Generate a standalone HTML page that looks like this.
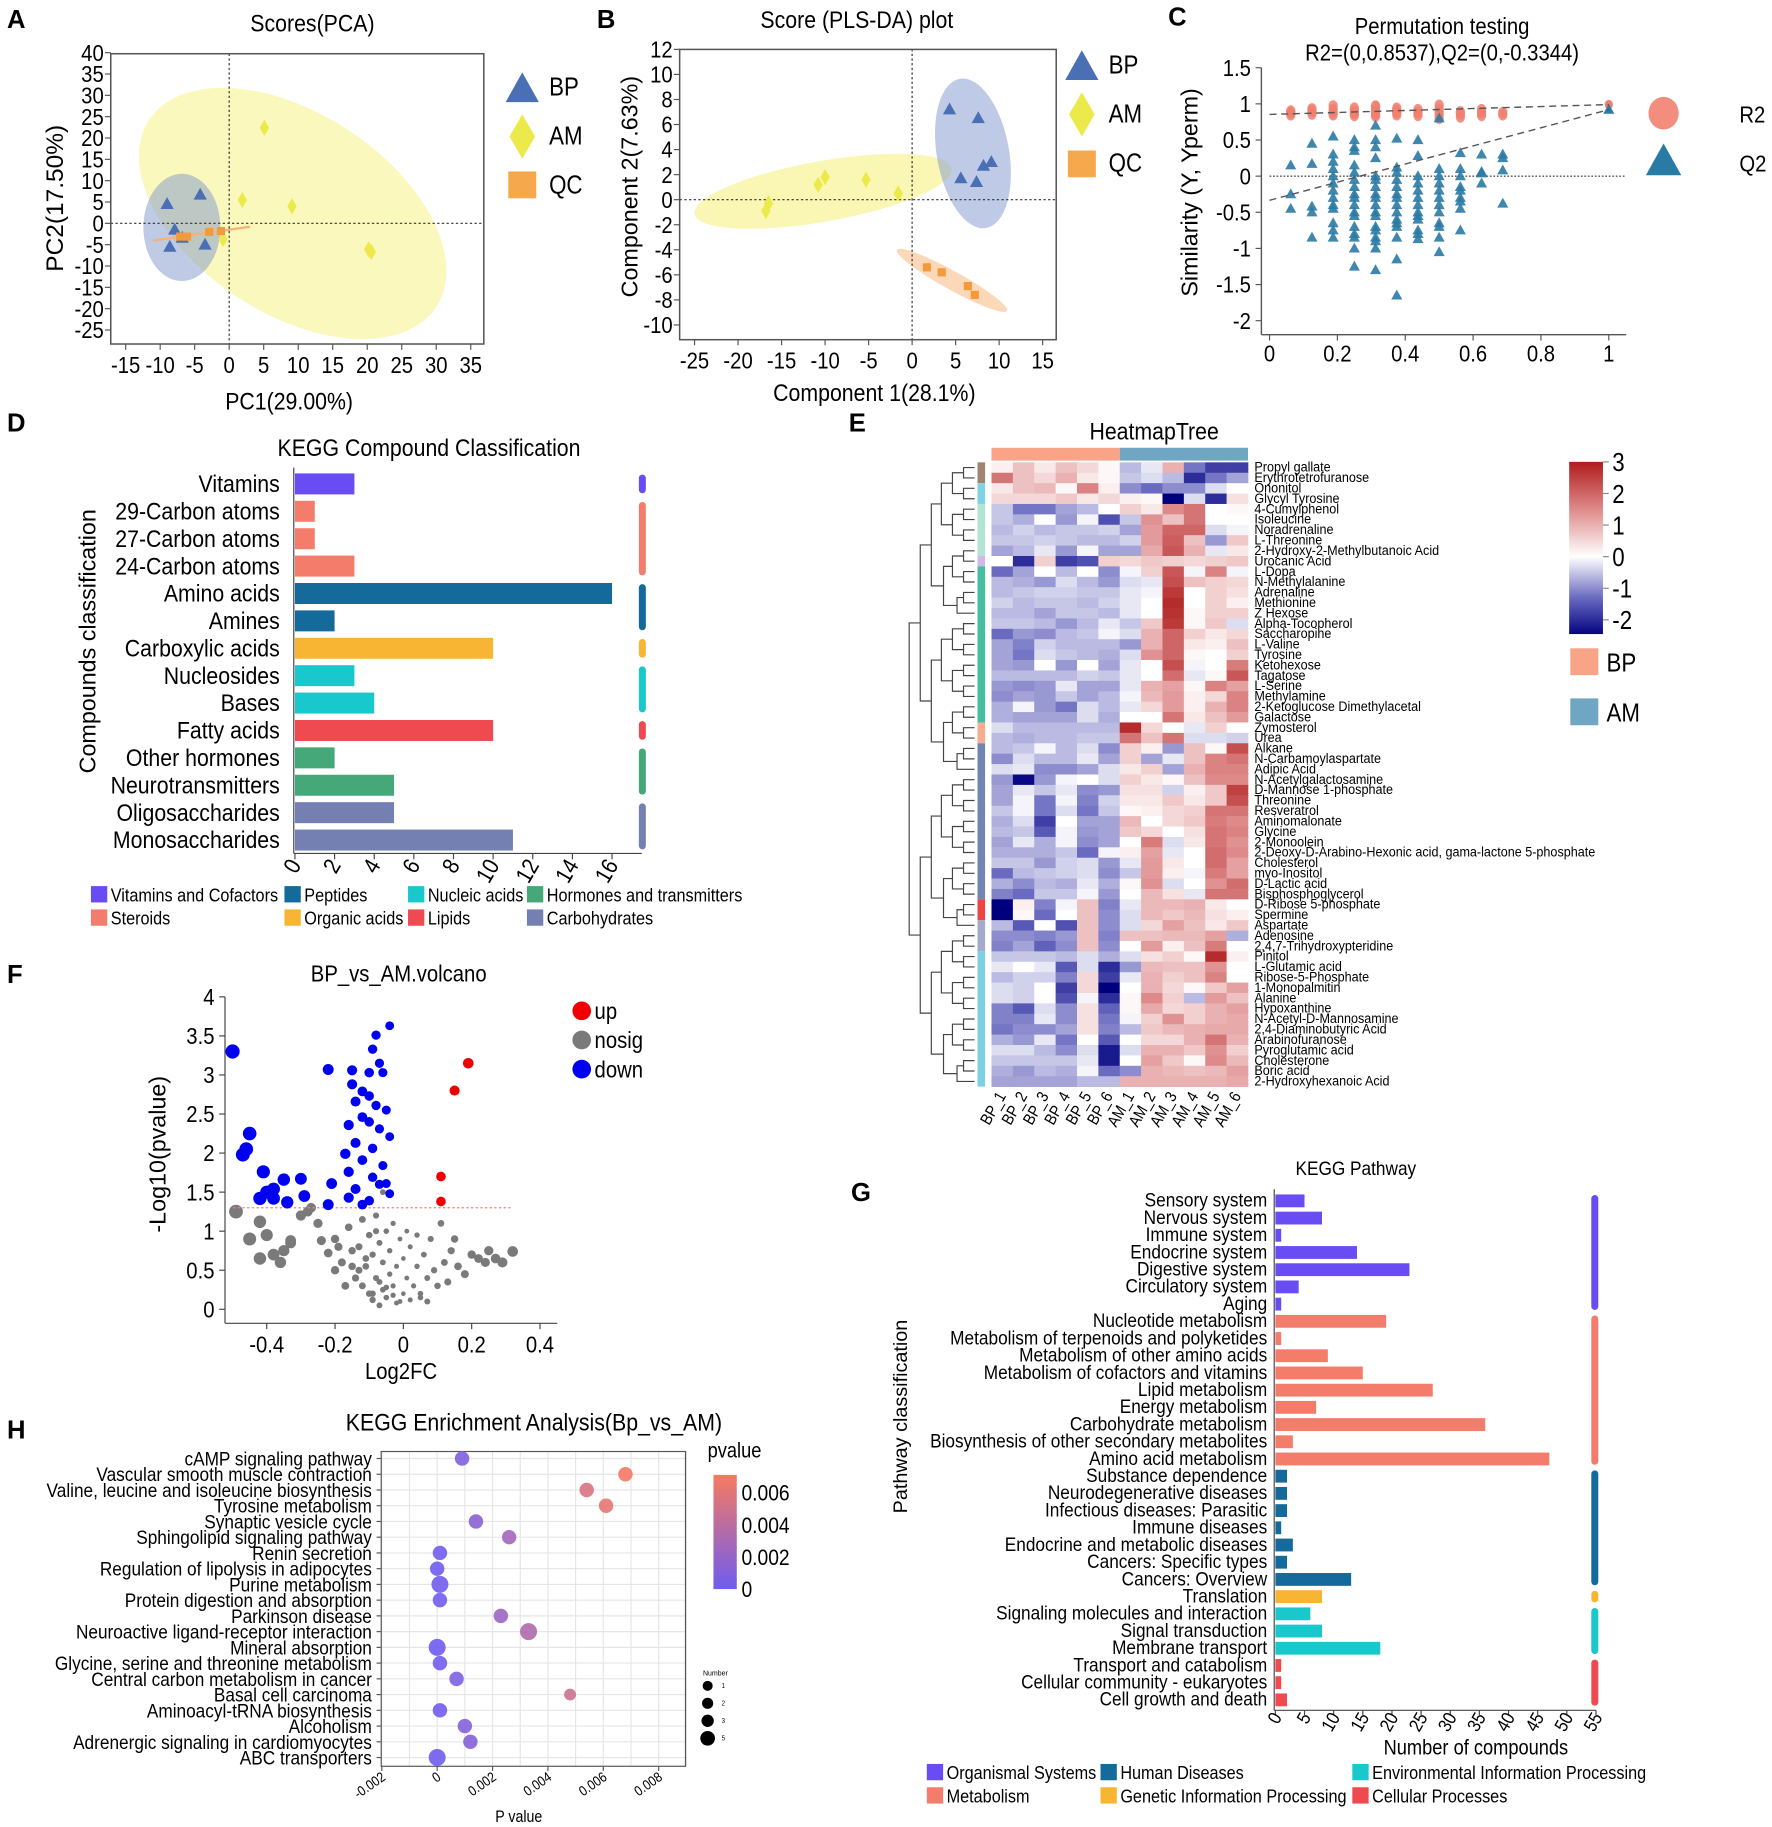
<!DOCTYPE html>
<html><head><meta charset="utf-8"><title>Metabolomics figure</title>
<style>
html,body{margin:0;padding:0;background:#fff;}
svg{display:block;font-family:"Liberation Sans",sans-serif;}
.pl{font-family:"Liberation Sans",sans-serif;font-weight:bold;font-size:22px;}
</style></head>
<body>
<svg id="fig" xmlns="http://www.w3.org/2000/svg" width="1772" height="1827" viewBox="0 0 1520 1567">
<rect x="0" y="0" width="1520" height="1567" fill="#fff"/>
<text class="pl" x="6" y="24">A</text>
<text class="pl" x="512" y="24">B</text>
<text class="pl" x="1002" y="22">C</text>
<text class="pl" x="6" y="370">D</text>
<text class="pl" x="728" y="370">E</text>
<text class="pl" x="6" y="843">F</text>
<text class="pl" x="730" y="1030">G</text>
<text class="pl" x="6" y="1234">H</text>

<text transform="translate(268,27) scale(0.87,1)" font-size="21" text-anchor="middle">Scores(PCA)</text>
<text transform="translate(248,351) scale(0.87,1)" font-size="21" text-anchor="middle">PC1(29.00%)</text>
<text transform="translate(54,170) rotate(-90)" font-size="21" text-anchor="middle">PC2(17.50%)</text>

<text transform="translate(735,24) scale(0.87,1)" font-size="21" text-anchor="middle">Score (PLS-DA) plot</text>
<text transform="translate(750,344) scale(0.87,1)" font-size="21" text-anchor="middle">Component 1(28.1%)</text>
<text transform="translate(547,160) rotate(-90)" font-size="20" text-anchor="middle">Component 2(7.63%)</text>

<text transform="translate(1237,29) scale(0.87,1)" font-size="20" text-anchor="middle">Permutation testing</text>
<text transform="translate(1237,52) scale(0.87,1)" font-size="20" text-anchor="middle">R2=(0,0.8537),Q2=(0,-0.3344)</text>
<text transform="translate(1027,165) rotate(-90)" font-size="20" text-anchor="middle">Similarity (Y, Yperm)</text>

<text transform="translate(368,391) scale(0.87,1)" font-size="21" text-anchor="middle">KEGG Compound Classification</text>
<text transform="translate(82,550) rotate(-90)" font-size="20" text-anchor="middle">Compounds classification</text>

<text transform="translate(990,377) scale(0.87,1)" font-size="21" text-anchor="middle">HeatmapTree</text>

<text transform="translate(342,842) scale(0.87,1)" font-size="20" text-anchor="middle">BP_vs_AM.volcano</text>
<text transform="translate(344,1183) scale(0.87,1)" font-size="20" text-anchor="middle">Log2FC</text>
<text transform="translate(142,990) rotate(-90)" font-size="20" text-anchor="middle">-Log10(pvalue)</text>

<text transform="translate(1163,1008) scale(0.87,1)" font-size="17" text-anchor="middle">KEGG Pathway</text>
<text transform="translate(1266,1505) scale(0.87,1)" font-size="18" text-anchor="middle">Number of compounds</text>
<text transform="translate(778,1215) rotate(-90)" font-size="17" text-anchor="middle">Pathway classification</text>

<text transform="translate(458,1227) scale(0.87,1)" font-size="21" text-anchor="middle">KEGG Enrichment Analysis(Bp_vs_AM)</text>
<text transform="translate(445,1563) scale(0.87,1)" font-size="14" text-anchor="middle">P value</text>
<text transform="translate(607,1250) scale(0.87,1)" font-size="18">pvalue</text>
<text x="603" y="1437" font-size="6">Number</text>
<g id="root"></g>
</svg>
<script>
// ===== Panel A data (PCA) =====
const pcaXTicks=[-15,-10,-5,0,5,10,15,20,25,30,35];
const pcaYTicks=[40,35,30,25,20,15,10,5,0,-5,-10,-15,-20,-25];
const pcaBPx=[-9,-4.2,-7.9,-6.8,-8.6,-3.5];
const pcaBPy=[4.5,6.7,-1.5,-3.4,-5.5,-5];
const pcaAMx=[5.1,1.9,9.1,20.2,20.6,-0.9];
const pcaAMy=[22.4,5.5,4,-6.1,-6.7,-3.7];
const pcaQCx=[-7.1,-6.1,-2.9,-1.2];
const pcaQCy=[-3.1,-3.1,-2,-1.8];
// ===== Panel B data (PLS-DA) =====
const plsXTicks=[-25,-20,-15,-10,-5,0,5,10,15];
const plsYTicks=[12,10,8,6,4,2,0,-2,-4,-6,-8,-10];
const plsBPx=[4.3,7.6,5.6,7.4,8.2,9.1];
const plsBPy=[7.2,6.5,1.7,1.4,2.7,3.0];
const plsAMx=[-16.8,-16.5,-10.8,-10,-5.3,-1.6];
const plsAMy=[-0.9,-0.3,1.2,1.8,1.6,0.5];
const plsQCx=[1.7,3.4,6.4,7.2];
const plsQCy=[-5.4,-5.8,-6.9,-7.6];
// ===== Panel C data (permutation) =====
const permXTicks=[0,0.2,0.4,0.6,0.8,1];
const permXTickLabels=['0','0.2','0.4','0.6','0.8','1'];
const permYTicks=[1.5,1,0.5,0,-0.5,-1,-1.5,-2];
const permYTickLabels=['1.5','1','0.5','0','-0.5','-1','-1.5','-2'];
const permX=[0.0625,0.125,0.1875,0.25,0.3125,0.375,0.4375,0.5,0.5625,0.625,0.6875];
const permR2=[[0.85,0.88,0.9],[0.86,0.9,0.93],[0.85,0.88,0.92,0.97],[0.84,0.87,0.9,0.94],[0.83,0.86,0.9,0.95,0.97],[0.85,0.88,0.91,0.94],[0.84,0.88,0.92],[0.8,0.84,0.88,0.93,0.98],[0.82,0.86,0.89],[0.84,0.88,0.92],[0.85,0.88]];
const permQ2=[[0.15,-0.25,-0.45],[0.45,0.17,-0.42,-0.5,-0.85],[0.55,0.3,0.2,0.1,0,-0.1,-0.2,-0.3,-0.4,-0.45,-0.65,-0.75,-0.85],[0.5,0.4,0.35,0.15,0.05,-0.05,-0.15,-0.25,-0.3,-0.4,-0.5,-0.55,-0.7,-0.8,-0.85,-1.0,-1.25],[0.7,0.5,0.4,0.25,0,-0.05,-0.15,-0.25,-0.3,-0.4,-0.5,-0.55,-0.7,-0.75,-0.85,-0.9,-1.0,-1.3],[0.52,0.12,0.05,-0.05,-0.15,-0.25,-0.3,-0.4,-0.5,-0.6,-0.65,-0.7,-0.85,-1.15,-1.65],[0.5,0.28,0,-0.1,-0.2,-0.3,-0.4,-0.5,-0.55,-0.6,-0.75,-0.8,-0.87],[0.8,0.1,0,-0.1,-0.2,-0.3,-0.4,-0.5,-0.65,-0.7,-0.85,-1.05],[0.32,0.1,0,-0.15,-0.2,-0.3,-0.35,-0.45,-0.75],[0.3,0.06,0.04,-0.1],[0.3,0.25,0.08,-0.38]];
const permFinalR2=[1,0.99];
const permFinalQ2=[1,0.92];
const permIntercepts=[0.8537,-0.3344];
// ===== Panel D data =====
const compCats=['Vitamins','29-Carbon atoms','27-Carbon atoms','24-Carbon atoms','Amino acids','Amines','Carboxylic acids','Nucleosides','Bases','Fatty acids','Other hormones','Neurotransmitters','Oligosaccharides','Monosaccharides'];
const compVals=[3,1,1,3,16,2,10,3,4,10,2,5,5,11];
const compGroup=[0,1,1,1,2,2,3,4,4,5,6,6,7,7];
const compTicks=[0,2,4,6,8,10,12,14,16];
const compGroupNames=['Vitamins and Cofactors','Steroids','Peptides','Organic acids','Nucleic acids','Lipids','Hormones and transmitters','Carbohydrates'];
// ===== Panel E data =====
const hmRows=['Propyl gallate','Erythrotetrofuranose','Ononitol','Glycyl Tyrosine','4-Cumylphenol','Isoleucine','Noradrenaline','L-Threonine','2-Hydroxy-2-Methylbutanoic Acid','Urocanic Acid','L-Dopa','N-Methylalanine','Adrenaline','Methionine','Z Hexose','Alpha-Tocopherol','Saccharopine','L-Valine','Tyrosine','Ketohexose','Tagatose','L-Serine','Methylamine','2-Ketoglucose Dimethylacetal','Galactose','Zymosterol','Urea','Alkane','N-Carbamoylaspartate','Adipic Acid','N-Acetylgalactosamine','D-Mannose 1-phosphate','Threonine','Resveratrol','Aminomalonate','Glycine','2-Monoolein','2-Deoxy-D-Arabino-Hexonic acid, gama-lactone 5-phosphate','Cholesterol','myo-Inositol','D-Lactic acid','Bisphosphoglycerol','D-Ribose 5-phosphate','Spermine','Aspartate','Adenosine','2,4,7-Trihydroxypteridine','Pinitol','L-Glutamic acid','Ribose-5-Phosphate','1-Monopalmitin','Alanine','Hypoxanthine','N-Acetyl-D-Mannosamine','2,4-Diaminobutyric Acid','Arabinofuranose','Pyroglutamic acid','Cholesterone','Boric acid','2-Hydroxyhexanoic Acid'];
const hmCols=['BP_1','BP_2','BP_3','BP_4','BP_5','BP_6','AM_1','AM_2','AM_3','AM_4','AM_5','AM_6'];
const hmVals=[
[0.2,0.8,0.3,0.8,0.5,0.1,-0.6,-0.2,1,-1.2,-1.8,-1.8],
[1.8,0.8,0.5,1,0.3,0.1,-0.5,-0.3,-0.6,-2,-1.2,-0.8],
[0.3,0.8,0.9,0.1,1.6,0.2,-1,-1.3,-1,-1,-0.3,0],
[0.5,0.5,0.5,0.7,0.3,0.5,0.2,0.1,-2.5,-0.3,-2,0.4],
[-0.5,-1.2,-1.2,-0.8,-0.6,0,0.6,0.3,1.5,1.8,0,0.1],
[-0.5,-0.7,0,-0.9,-0.1,-1.6,-0.5,1.4,0.8,1.8,0,0],
[-0.6,-0.4,-0.6,-0.5,-0.5,-0.4,-0.8,1.3,2,2,-0.3,-0.1],
[-0.5,-0.5,-0.4,-0.5,-0.6,-0.6,-0.4,1.3,2.1,0.8,-0.9,0.7],
[-0.8,-0.6,-0.2,-0.9,-0.1,-0.8,-0.8,1.1,2.2,1,-0.2,0.3],
[0,-2,0.6,-1.8,-1.6,0.6,0.5,0.7,0.6,0.5,0.6,0.7],
[-1.3,-0.8,0,-0.6,0,-1,-0.1,0.6,2.2,-0.1,1.6,-0.1],
[-0.6,-0.7,-0.9,-0.3,-0.6,-0.9,-0.3,-0.2,2.3,0.8,0.6,0.5],
[-0.6,-0.5,-0.4,-0.4,-0.5,-0.5,-0.2,-0.1,2.6,0,0.6,0.4],
[-0.4,-0.6,-0.5,-0.5,-0.6,-0.4,-0.2,0,2.8,0,0.6,0.2],
[-0.6,-0.6,-0.8,-0.5,-0.5,-0.6,-0.2,0,2.7,0.1,0.6,0.6],
[-0.5,-0.5,-0.6,-0.9,-0.6,-0.2,-0.5,0.7,2.6,0.1,0.7,-0.3],
[-1.3,-0.9,-1,-0.6,-0.5,-0.1,-0.3,1,2,0.6,0.3,0.5],
[-0.8,-1.1,-0.4,-0.6,-0.6,-0.6,-0.9,1,2,0.3,0.2,0.8],
[-0.8,-1.2,-0.3,-0.5,-0.6,-0.7,-0.3,1.4,2,0.1,0,0.6],
[-0.8,-0.9,0,-0.9,0,-0.8,-0.2,0,2.3,-0.1,0,1.7],
[-0.6,-0.6,-0.6,-0.6,-0.4,-0.5,-0.2,0,1.9,-0.2,0.1,2.2],
[-0.9,-1,-0.9,-0.2,-0.8,-0.8,-0.2,1,1.2,0.1,1.6,1.2],
[-1,-0.8,-0.9,-0.5,-0.8,-0.6,-0.1,0.9,1.3,0.2,0.5,1.6],
[-0.7,-0.1,-0.9,-1.2,-0.3,-0.6,-0.2,0.5,1.3,0.2,1,1.6],
[-0.7,-0.8,-0.8,-0.8,-0.3,-0.7,0,0,1.8,0.3,0.8,1.3],
[-0.3,-0.6,-0.6,-0.6,-0.6,-0.6,2.8,0.5,0,-0.2,0.6,0],
[-0.6,-0.7,-0.6,-0.6,-0.5,-0.5,1.8,0.8,1.8,-0.3,-0.3,-0.4],
[-0.6,-0.5,-0.1,-0.6,-0.3,-1,0.6,0.2,-0.9,0.8,0.1,2.3],
[-1,-0.3,-0.6,-0.6,-0.2,-0.8,0.6,-0.8,-0.2,0.8,1.6,1.8],
[-0.3,-0.2,-1,-1,-0.8,-0.3,0.3,0.6,-0.8,1,1.6,1.6],
[-0.9,-2.4,-0.9,-0.1,0,-0.3,0.6,0.3,0.1,0.8,1.5,1.5],
[-0.8,-0.2,-0.5,-0.2,-1,-0.9,0.4,0.4,-0.4,0.2,0.7,2.5],
[-0.8,-0.1,-1.2,-0.1,-1.1,-0.4,0.3,0.3,0.7,0.3,0.7,2.3],
[-0.5,-0.1,-1.2,-0.3,-1.2,-0.5,0.1,0.2,0.5,0.6,1.8,1.8],
[-0.7,-0.3,-1.8,0,-0.8,-0.8,0.9,0,0.5,0.7,1.7,1.5],
[-0.6,-0.5,-1.5,-0.1,-0.9,-0.8,0.7,0.5,0,0.4,1.8,1.6],
[-0.8,-0.2,-0.7,-0.1,-1,-0.8,0,1.7,-0.3,0.3,1.8,1.4],
[-0.7,-0.7,-0.7,-0.5,-1.3,-0.1,0.2,1.2,-0.2,0,1.9,1.5],
[-0.5,-0.5,-0.9,-0.4,-0.3,-0.9,-0.2,1.3,0.3,0,1.9,1.2],
[-1.3,-0.6,-0.5,-0.4,-0.3,-1,-0.5,1.3,0.2,-0.1,1.7,1.2],
[-0.7,-1,-0.6,-0.7,-0.2,-0.7,0.1,1.4,-0.3,0,1.4,1.9],
[-1.1,-1.3,-0.5,-0.5,-0.1,-0.9,0,0.9,0.4,-0.2,1.8,1.8],
[-2.5,0.2,-1.1,-0.1,0.8,-1.1,-0.2,0.9,0.9,1,0.3,0],
[-2.6,0.1,-1.3,0,0.8,-1,-0.3,0.9,0.7,0.9,0.4,0.2],
[-0.6,-1.5,0,-1.6,0.8,-1,-0.3,0.5,1.2,0.8,0.3,0.7],
[-1,-1,-1.1,-0.9,0.8,-1.1,0.8,0.8,0.9,0.9,1.2,-0.7],
[-1.1,-0.8,-1.4,-1,0.8,-1,0,1.3,0.2,0.8,1.7,0],
[-0.5,-0.5,-0.5,-0.6,-0.3,-0.7,-0.3,0.4,0.6,0.1,2.8,0.2],
[-0.2,0,-0.2,-1.5,-0.3,-2,-0.9,0.9,0.8,0.8,1.4,0],
[-0.6,-0.4,-0.4,-1.1,0.5,-1.8,-0.2,1,0.6,0.8,1.6,0],
[-0.3,-0.4,0,-1.8,0.5,-2.5,0,1,0.5,0.1,0.7,1.2],
[-0.3,-0.4,0,-1.6,-0.1,-2,0.1,1.5,0.6,-0.6,1.3,0.8],
[-1.1,-1.5,-0.3,-1,0.4,-1.4,0.1,1.1,0.5,0.6,1,1.2],
[-1.1,-1.1,-0.2,-1,0.4,-1.2,-0.1,0.6,1.4,0.6,1,1.1],
[-1.2,-1,-1,-0.8,0.4,-1.1,-0.6,0.7,0.9,1,1.1,1.1],
[-0.7,-0.9,-0.2,-1.2,0,-1.5,0,0.5,0.5,1,1.8,1],
[-0.3,-0.3,-0.6,-1,-0.3,-2.2,-0.3,1,1,0.7,1.4,0.6],
[-0.5,-0.5,-0.5,-0.5,-0.2,-2.2,0,1.2,0.7,0.1,1.5,0.9],
[-0.7,-0.9,-0.6,-0.7,-0.1,-1.3,-1,1,0.9,0.8,0.9,1.2],
[-0.8,-0.8,-0.8,-0.8,-0.6,-0.6,1,1,1,1,1,1.1]];
const hmRowGroupSizes=[2,2,5,1,15,2,15,2,3,13];
const hmColorbarTicks=[3,2,1,0,-1,-2];
// ===== Panel F data (volcano) =====
const volXTicks=[-0.4,-0.2,0,0.2,0.4];
const volYTicks=[4,3.5,3,2.5,2,1.5,1,0.5,0];
const volYTickLabels=['4','3.5','3','2.5','2','1.5','1','0.5','0'];
const volDownX=[-0.5,-0.45,-0.46,-0.47,-0.41,-0.35,-0.38,-0.4,-0.42,-0.3,-0.29,-0.34,-0.38,-0.04,-0.08,-0.09,-0.07,-0.22,-0.15,-0.1,-0.06,-0.15,-0.12,-0.1,-0.14,-0.08,-0.05,-0.12,-0.1,-0.16,-0.07,-0.04,-0.14,-0.09,-0.17,-0.12,-0.06,-0.16,-0.09,-0.21,-0.14,-0.05,-0.16,-0.1,-0.22,-0.04,-0.12,-0.07];
const volDownY=[3.3,2.25,2.05,1.98,1.76,1.66,1.54,1.5,1.42,1.67,1.45,1.37,1.42,3.63,3.51,3.33,3.15,3.07,3.06,3.03,3.03,2.88,2.79,2.73,2.66,2.61,2.55,2.46,2.4,2.36,2.31,2.21,2.13,2.06,1.99,1.91,1.84,1.76,1.69,1.61,1.54,1.61,1.43,1.39,1.34,1.48,1.34,1.6];
const volUpX=[0.19,0.15,0.11,0.11];
const volUpY=[3.15,2.8,1.7,1.38];
const volNsX=[-0.49,-0.42,-0.4,-0.38,-0.35,-0.33,-0.3,-0.28,-0.27,-0.25,-0.24,-0.22,-0.2,-0.19,-0.18,-0.16,-0.15,-0.15,-0.14,-0.13,-0.12,-0.12,-0.11,-0.1,-0.1,-0.09,-0.09,-0.08,-0.08,-0.07,-0.07,-0.06,-0.06,-0.05,-0.05,-0.04,-0.04,-0.03,-0.03,-0.02,-0.02,-0.01,0,0,0.01,0.01,0.02,0.02,0.03,0.04,0.04,0.05,0.06,0.07,0.07,0.08,0.09,0.1,0.11,0.12,0.13,0.14,0.15,0.16,0.18,0.2,0.22,0.24,0.25,0.27,0.29,0.32,-0.45,-0.42,-0.36,-0.33,-0.2,-0.17,-0.13,-0.11,-0.09,-0.07,-0.05,-0.03,-0.01,0.05,-0.08,-0.06];
const volNsY=[1.25,1.12,0.95,0.7,0.75,0.88,1.2,1.25,1.3,1.1,0.88,0.72,0.9,0.8,0.6,1.05,0.75,0.55,0.4,0.8,1.15,0.3,0.55,0.2,0.95,0.7,0.12,0.4,1.2,0.85,0.05,0.25,0.6,1.0,0.15,0.45,0.75,0.3,1.1,0.08,0.55,0.9,0.2,0.65,1.0,0.4,0.12,0.8,0.3,0.55,0.95,0.2,0.7,0.4,0.1,0.9,0.5,0.3,1.1,0.6,0.35,0.75,0.9,0.55,0.45,0.7,0.65,0.6,0.75,0.65,0.6,0.74,0.9,0.65,0.6,0.85,0.5,0.3,0.5,0.65,0.2,0.35,0.28,0.18,0.1,0.15,1.0,1.5];
// ===== Panel G data =====
const pathCats=['Sensory system','Nervous system','Immune system','Endocrine system','Digestive system','Circulatory system','Aging','Nucleotide metabolism','Metabolism of terpenoids and polyketides','Metabolism of other amino acids','Metabolism of cofactors and vitamins','Lipid metabolism','Energy metabolism','Carbohydrate metabolism','Biosynthesis of other secondary metabolites','Amino acid metabolism','Substance dependence','Neurodegenerative diseases','Infectious diseases: Parasitic','Immune diseases','Endocrine and metabolic diseases','Cancers: Specific types','Cancers: Overview','Translation','Signaling molecules and interaction','Signal transduction','Membrane transport','Transport and catabolism','Cellular community - eukaryotes','Cell growth and death'];
const pathVals=[5,8,1,14,23,4,1,19,1,9,15,27,7,36,3,47,2,2,2,1,3,2,13,8,6,8,18,1,1,2];
const pathGroup=[0,0,0,0,0,0,0,1,1,1,1,1,1,1,1,1,2,2,2,2,2,2,2,3,4,4,4,5,5,5];
const pathTicks=[0,5,10,15,20,25,30,35,40,45,50,55];
const pathGroupNames=['Organismal Systems','Metabolism','Human Diseases','Genetic Information Processing','Environmental Information Processing','Cellular Processes'];
// ===== Panel H data =====
const enrCats=['cAMP signaling pathway','Vascular smooth muscle contraction','Valine, leucine and isoleucine biosynthesis','Tyrosine metabolism','Synaptic vesicle cycle','Sphingolipid signaling pathway','Renin secretion','Regulation of lipolysis in adipocytes','Purine metabolism','Protein digestion and absorption','Parkinson disease','Neuroactive ligand-receptor interaction','Mineral absorption','Glycine, serine and threonine metabolism','Central carbon metabolism in cancer','Basal cell carcinoma','Aminoacyl-tRNA biosynthesis','Alcoholism','Adrenergic signaling in cardiomyocytes','ABC transporters'];
const enrP=[0.0009,0.0068,0.0054,0.0061,0.0014,0.0026,0.0001,0,0.0001,0.0001,0.0023,0.0033,0,0.0001,0.0007,0.0048,0.0001,0.001,0.0012,0];
const enrNum=[2,2,2,2,2,2,2,2,3,2,2,3,3,2,2,1,2,2,2,3];
const enrXTicks=[-0.002,0,0.002,0.004,0.006,0.008];
const enrXTickLabels=['-0.002','0','0.002','0.004','0.006','0.008'];
const enrPvTicks=[0.006,0.004,0.002,0];
const enrSizeLegend=[1,2,3,5];

// ================= drawing helpers =================
const NS='http://www.w3.org/2000/svg';
const ROOT=document.getElementById('root');
const SX=0.87;
function mk(tag,attrs,parent){const e=document.createElementNS(NS,tag);for(const k in attrs)e.setAttribute(k,attrs[k]);(parent||ROOT).appendChild(e);return e;}
function tx(x,y,s,attrs,parent){
 attrs=Object.assign({},attrs||{});
 let tr='translate('+x+','+y+')';
 if(attrs.rot!==undefined){tr+=' rotate('+attrs.rot+')';delete attrs.rot;}
 let sx=SX; if(attrs.sx!==undefined){sx=attrs.sx;delete attrs.sx;}
 tr+=' scale('+sx+',1)';
 const e=mk('text',Object.assign({x:0,y:0,transform:tr},attrs),parent);e.textContent=s;return e;}
function triPath(x,y,s){return 'M'+x+','+(y-s)+' L'+(x+s*0.95)+','+(y+s*0.7)+' L'+(x-s*0.95)+','+(y+s*0.7)+' Z';}
function diaPath(x,y,w,h){return 'M'+x+','+(y-h)+' L'+(x+w)+','+y+' L'+x+','+(y+h)+' L'+(x-w)+','+y+' Z';}
function lerpHex(a,b,t){const pa=[parseInt(a.substr(1,2),16),parseInt(a.substr(3,2),16),parseInt(a.substr(5,2),16)];const pb=[parseInt(b.substr(1,2),16),parseInt(b.substr(3,2),16),parseInt(b.substr(5,2),16)];return 'rgb('+pa.map((v,i)=>Math.round(v+(pb[i]-v)*t)).join(',')+')';}
function hmColor(v){const stops=[[-2.5,'#00007f'],[-1.3,'#6a6ac0'],[0,'#ffffff'],[1.5,'#de8a8a'],[3,'#b01c1c']];if(v<=stops[0][0])return stops[0][1];for(let i=1;i<stops.length;i++){if(v<=stops[i][0]){const t=(v-stops[i-1][0])/(stops[i][0]-stops[i-1][0]);return lerpHex(stops[i-1][1],stops[i][1],t);}}return stops[stops.length-1][1];}

// ================= Panel A =================
(function(){
const ax=v=>196.6+v*5.92, ay=v=>191.5-v*3.66;
const g=mk('g',{});


let e=mk('ellipse',{cx:251,cy:183,rx:147,ry:86,transform:'rotate(33 251 183)',fill:'#f7f49a','fill-opacity':0.65},g);


e=mk('ellipse',{cx:156,cy:195,rx:33,ry:46,fill:'#7f97cc','fill-opacity':0.5},g);


e=mk('line',{x1:ax(-11),y1:ay(-4),x2:ax(3),y2:ay(-0.8),stroke:'#f5b27a','stroke-width':2},g);


e=mk('line',{x1:ax(0),y1:46,x2:ax(0),y2:295,stroke:'#333','stroke-dasharray':'2,2'},g);


e=mk('line',{x1:95,y1:ay(0),x2:415,y2:ay(0),stroke:'#333','stroke-dasharray':'2,2'},g);


e=mk('rect',{x:95,y:46,width:320,height:249,fill:'none',stroke:'#555','stroke-width':1.3},g);


pcaXTicks.forEach(v=>{
 const l=mk('line',{x1:ax(v),y1:295,x2:ax(v),y2:300,stroke:'#555'},g);
 
 
 const t=tx(ax(v),320,String(v),{'font-size':20,'text-anchor':'middle'},g);
 
 
});
pcaYTicks.forEach(v=>{
 const l=mk('line',{x1:90,y1:ay(v),x2:95,y2:ay(v),stroke:'#555'},g);
 
 
 const t=tx(89,ay(v)+7,String(v),{'font-size':20,'text-anchor':'end'},g);
 
 
});
pcaAMx.forEach((v,i)=>{const p=mk('path',{d:diaPath(ax(v),ay(pcaAMy[i]),4,7),fill:'#ecea4a'},g);
 
 });
pcaBPx.forEach((v,i)=>{const p=mk('path',{d:triPath(ax(v),ay(pcaBPy[i]),6),fill:'#4a6fb5'},g);
 
 });
pcaQCx.forEach((v,i)=>{const p=mk('rect',{x:ax(v)-3.5,y:ay(pcaQCy[i])-3.5,width:7,height:7,fill:'#f39a3a'},g);
 
 });
let p=mk('path',{d:triPath(448,77,15),fill:'#4a6fb5'},g);


p=mk('path',{d:diaPath(448,117,11,19),fill:'#ecea4a'},g);


p=mk('rect',{x:436,y:147,width:24,height:23,fill:'#f5a94c'},g);


[['BP',82],['AM',124],['QC',166]].forEach(a=>{const t=tx(471,a[1],a[0],{'font-size':22},g);
 
 });
})();

// ================= Panel B =================
(function(){
const bx=v=>782.4+v*7.465, by=v=>171.2-v*10.745;
const g=mk('g',{});


let e=mk('ellipse',{cx:706,cy:164,rx:112,ry:26,transform:'rotate(-10 706 164)',fill:'#f7f49a','fill-opacity':0.75},g);


e=mk('ellipse',{cx:834.6,cy:131.5,rx:31,ry:65,transform:'rotate(-10 834.6 131.5)',fill:'#8aa0d2','fill-opacity':0.55},g);


e=mk('ellipse',{cx:816.6,cy:240.4,rx:54,ry:8,transform:'rotate(29 816.6 240.4)',fill:'#f9c99a','fill-opacity':0.7},g);


e=mk('line',{x1:bx(0),y1:42,x2:bx(0),y2:291,stroke:'#333','stroke-dasharray':'2,2'},g);


e=mk('line',{x1:583,y1:by(0),x2:906,y2:by(0),stroke:'#333','stroke-dasharray':'2,2'},g);


e=mk('rect',{x:583,y:42.3,width:323,height:249,fill:'none',stroke:'#555','stroke-width':1.3},g);


plsXTicks.forEach(v=>{
 const l=mk('line',{x1:bx(v),y1:291,x2:bx(v),y2:296,stroke:'#555'},g);
 
 
 const t=tx(bx(v),316,String(v),{'font-size':20,'text-anchor':'middle'},g);
 
 
});
plsYTicks.forEach(v=>{
 const l=mk('line',{x1:578,y1:by(v),x2:583,y2:by(v),stroke:'#555'},g);
 
 
 const t=tx(577,by(v)+7,String(v),{'font-size':20,'text-anchor':'end'},g);
 
 
});
plsAMx.forEach((v,i)=>{const p=mk('path',{d:diaPath(bx(v),by(plsAMy[i]),4,7),fill:'#ecea4a'},g);
 
 });
plsBPx.forEach((v,i)=>{const p=mk('path',{d:triPath(bx(v),by(plsBPy[i]),6),fill:'#4a6fb5'},g);
 
 });
plsQCx.forEach((v,i)=>{const p=mk('rect',{x:bx(v)-3.5,y:by(plsQCy[i])-3.5,width:7,height:7,fill:'#f39a3a'},g);
 
 });
let p=mk('path',{d:triPath(928,58,15),fill:'#4a6fb5'},g);


p=mk('path',{d:diaPath(928,98,11,19),fill:'#ecea4a'},g);


p=mk('rect',{x:916,y:129,width:24,height:23,fill:'#f5a94c'},g);


[['BP',63],['AM',105],['QC',147]].forEach(a=>{const t=tx(951,a[1],a[0],{'font-size':22},g);
 
 });
})();

// ================= Panel C =================
(function(){
const cx=v=>1089+v*291, cy=v=>151-v*62;
const g=mk('g',{});


let e=mk('line',{x1:1082,y1:58,x2:1082,y2:287,stroke:'#555','stroke-width':1.2},g);


e=mk('line',{x1:1082,y1:287,x2:1395,y2:287,stroke:'#555','stroke-width':1.2},g);


e=mk('line',{x1:1089,y1:cy(0),x2:1395,y2:cy(0),stroke:'#555','stroke-dasharray':'1.5,1.5','stroke-width':1.2},g);


permXTicks.forEach((v,i)=>{
 const l=mk('line',{x1:cx(v),y1:287,x2:cx(v),y2:292,stroke:'#555'},g);
 
 
 const t=tx(cx(v),310,permXTickLabels[i],{'font-size':20,'text-anchor':'middle'},g);
 
 
});
permYTicks.forEach((v,i)=>{
 const l=mk('line',{x1:1077,y1:cy(v),x2:1082,y2:cy(v),stroke:'#555'},g);
 
 
 const t=tx(1073,cy(v)+7,permYTickLabels[i],{'font-size':20,'text-anchor':'end'},g);
 
 
});
permX.forEach((x,i)=>{
 permR2[i].forEach(v=>{const c=mk('ellipse',{cx:cx(x),cy:cy(v),rx:4,ry:5,fill:'#f07f6e','fill-opacity':0.85},g);
  
  });
 permQ2[i].forEach(v=>{const p=mk('path',{d:triPath(cx(x),cy(v),5),fill:'#2a7aa6','fill-opacity':0.9},g);
  
  });
});
let c=mk('ellipse',{cx:cx(permFinalR2[0]),cy:cy(permFinalR2[1]),rx:3.5,ry:4,fill:'#f07f6e'},g);


c=mk('path',{d:triPath(cx(permFinalQ2[0]),cy(permFinalQ2[1]),5),fill:'#2a7aa6'},g);


e=mk('line',{x1:cx(0),y1:cy(permIntercepts[0]),x2:cx(permFinalR2[0]),y2:cy(permFinalR2[1]),stroke:'#555','stroke-dasharray':'6,4','stroke-width':1.2},g);


e=mk('line',{x1:cx(0),y1:cy(permIntercepts[1]),x2:cx(permFinalQ2[0]),y2:cy(permFinalQ2[1]),stroke:'#555','stroke-dasharray':'6,4','stroke-width':1.2},g);


c=mk('ellipse',{cx:1427,cy:97,rx:13,ry:14,fill:'#f38d7e'},g);


c=mk('path',{d:triPath(1427,139,16),fill:'#2a7aa6'},g);


let t=tx(1492,105,'R2',{'font-size':20},g);


t=tx(1492,147,'Q2',{'font-size':20},g);


})();

// ================= Panel D =================
const groupColors=['#6a4cf5','#f47c6a','#146a9a','#f8b533','#19c8cc','#ef4a4f','#45a878','#7580b2'];
(function(){
const dx=v=>253+v*17, dy=i=>415+i*23.5;
const g=mk('g',{});


let e=mk('line',{x1:252,y1:401,x2:252,y2:732,stroke:'#444'},g);


e=mk('line',{x1:252,y1:732,x2:dx(17.5),y2:732,stroke:'#444'},g);


compCats.forEach((c,i)=>{
 const r=mk('rect',{x:253,y:dy(i)-9,width:dx(compVals[i])-253,height:18,fill:groupColors[compGroup[i]]},g);
 
 
 const t=tx(240,dy(i)+7,c,{'font-size':21,'text-anchor':'end'},g);
 
 
});
for(let gi=0;gi<8;gi++){
 const idx=compGroup.map((v,i)=>v===gi?i:-1).filter(i=>i>=0);
 const r=mk('rect',{x:548,y:dy(idx[0])-8,width:6,height:dy(idx[idx.length-1])-dy(idx[0])+16,rx:3,fill:groupColors[gi]},g);
 
 
}
compTicks.forEach(v=>{
 const l=mk('line',{x1:dx(v),y1:732,x2:dx(v),y2:737,stroke:'#444'},g);
 
 
 const t=tx(dx(v)+6,742,String(v),{'font-size':20,'text-anchor':'end',rot:-60},g);
 
 
});
const legPos=[[78,767],[78,787],[244,767],[244,787],[350,767],[350,787],[452,767],[452,787]];
compGroupNames.forEach((n,i)=>{
 const r=mk('rect',{x:legPos[i][0],y:legPos[i][1]-7,width:14,height:14,fill:groupColors[i]},g);
 
 
 const t=tx(legPos[i][0]+17,legPos[i][1]+6,n,{'font-size':16},g);
 
 
});
})();

// ================= Panel E =================
(function(){
const x0=850.5,y0=396.5,cw=(1070.5-850.5)/12,ch=(932-396.5)/60;
const g=mk('g',{});


let r=mk('rect',{x:x0,y:384,width:cw*6,height:11,fill:'#f9a387'},g);


r=mk('rect',{x:x0+cw*6,y:384,width:cw*6,height:11,fill:'#6ea6c3'},g);


hmVals.forEach((row,i)=>{
 row.forEach((v,j)=>{
  const c=mk('rect',{x:x0+j*cw,y:y0+i*ch,width:cw+0.3,height:ch+0.3,fill:hmColor(v)},g);
  
  
 });
 const t=tx(1076,y0+i*ch+ch*0.9,hmRows[i],{'font-size':11.5,sx:0.94},g);
 
 
});
hmCols.forEach((c,j)=>{
 const xx=x0+j*cw+cw*0.7;
 const t=tx(xx,940,c,{'font-size':14,'text-anchor':'end',rot:-60},g);
 
 
});
const rowCols=['#a08370','#7fd3e3','#b3e3d3','#d0b8ec','#45bfa0','#f7ab90','#7285b2','#ee4444','#a4aacb','#7dcfe3'];
let start=0;
hmRowGroupSizes.forEach((n,k)=>{
 const b=mk('rect',{x:838.5,y:y0+start*ch,width:6.5,height:n*ch,fill:rowCols[k]},g);
 
 
 start+=n;
});
function build(lo,hi){
 if(lo===hi) return {y:y0+lo*ch+ch/2,x:836,n:1};
 const mid=Math.floor((lo+hi)/2);
 const a=build(lo,mid), b=build(mid+1,hi);
 const n=a.n+b.n;
 const nx=836-Math.log2(n)*9.5;
 const p=mk('path',{d:'M'+a.x+','+a.y+' H'+nx+' V'+b.y+' H'+b.x,fill:'none',stroke:'#444','stroke-width':1},g);
 
 
 return {y:(a.y+b.y)/2,x:nx,n:n};
}
build(0,hmRows.length-1);
const gr=mk('linearGradient',{id:'hmgrad',x1:0,y1:1,x2:0,y2:0},g);
[-2.45,-1.3,0,1.5,3].forEach(v=>{mk('stop',{offset:((v+2.45)/5.45).toFixed(3),'stop-color':hmColor(v)},gr);});
const cby=v=>477.4-v*27.1;
r=mk('rect',{x:1346,y:cby(3),width:29,height:cby(-2.45)-cby(3),fill:'url(#hmgrad)'},g);


hmColorbarTicks.forEach(v=>{
 const l=mk('line',{x1:1375,y1:cby(v),x2:1380,y2:cby(v),stroke:'#888'},g);
 
 
 const t=tx(1383,cby(v)+8,String(v),{'font-size':22},g);
 
 
});
r=mk('rect',{x:1347,y:556,width:24,height:23,fill:'#f9a387'},g);


r=mk('rect',{x:1347,y:599,width:24,height:23,fill:'#6ea6c3'},g);


let t=tx(1378,576,'BP',{'font-size':22},g);


t=tx(1378,619,'AM',{'font-size':22},g);


})();

// ================= Panel F =================
(function(){
const vx=v=>346+v*293, vy=v=>1123-v*67;
const g=mk('g',{});


let e=mk('line',{x1:193,y1:855,x2:193,y2:1135,stroke:'#444'},g);


e=mk('line',{x1:193,y1:1135,x2:478,y2:1135,stroke:'#444'},g);


volXTicks.forEach(v=>{
 const l=mk('line',{x1:vx(v),y1:1135,x2:vx(v),y2:1140,stroke:'#444'},g);
 
 
 const t=tx(vx(v),1160,String(v),{'font-size':20,'text-anchor':'middle'},g);
 
 
});
volYTicks.forEach((v,i)=>{
 const l=mk('line',{x1:188,y1:vy(v),x2:193,y2:vy(v),stroke:'#444'},g);
 
 
 const t=tx(184,vy(v)+7,volYTickLabels[i],{'font-size':20,'text-anchor':'end'},g);
 
 
});
volNsX.forEach((v,i)=>{const c=mk('circle',{cx:vx(v),cy:vy(volNsY[i]),r:2+Math.abs(v)*8,fill:'#7a7a7a'},g);
 
 });
e=mk('line',{x1:200,y1:vy(1.3),x2:440,y2:vy(1.3),stroke:'#f08080','stroke-dasharray':'2,2'},g);


volDownX.forEach((v,i)=>{const c=mk('circle',{cx:vx(v),cy:vy(volDownY[i]),r:3.6+Math.abs(v)*5,fill:'#0000f0'},g);
 
 });
volUpX.forEach((v,i)=>{const c=mk('circle',{cx:vx(v),cy:vy(volUpY[i]),r:3.6+Math.abs(v)*5,fill:'#f00000'},g);
 
 });
[['up','#f00000',867],['nosig','#7a7a7a',892],['down','#0000f0',917]].forEach(a=>{
 const c=mk('circle',{cx:499,cy:a[2],r:8,fill:a[1]},g);
 
 
 const t=tx(510,a[2]+7,a[0],{'font-size':20},g);
 
 
});
})();

// ================= Panel G =================
(function(){
const gx=v=>1094+v*5, gy=i=>1030+i*14.76;
const cols=['#6a4cf5','#f47c6a','#146a9a','#f8b533','#19c8cc','#ef4a4f'];
const g=mk('g',{});


let e=mk('line',{x1:1093,y1:1020,x2:1093,y2:1467,stroke:'#444'},g);


e=mk('line',{x1:1093,y1:1467,x2:gx(55),y2:1467,stroke:'#444'},g);


pathCats.forEach((c,i)=>{
 const r=mk('rect',{x:1094,y:gy(i)-5.5,width:gx(pathVals[i])-1094,height:11,fill:cols[pathGroup[i]]},g);
 
 
 const t=tx(1087,gy(i)+5,c,{'font-size':17,'text-anchor':'end'},g);
 
 
});
for(let gi=0;gi<6;gi++){
 const idx=pathGroup.map((v,i)=>v===gi?i:-1).filter(i=>i>=0);
 const r=mk('rect',{x:1365,y:gy(idx[0])-5,width:6,height:gy(idx[idx.length-1])-gy(idx[0])+10,rx:3,fill:cols[gi]},g);
 
 
}
pathTicks.forEach(v=>{
 const l=mk('line',{x1:gx(v),y1:1467,x2:gx(v),y2:1471,stroke:'#444'},g);
 
 
 const t=tx(gx(v)+6,1473,String(v),{'font-size':16,'text-anchor':'end',rot:-60},g);
 
 
});
const legPos=[[795,1520],[795,1540],[944,1520],[944,1540],[1160,1520],[1160,1540]];
pathGroupNames.forEach((n,i)=>{
 const r=mk('rect',{x:legPos[i][0],y:legPos[i][1]-7,width:14,height:14,fill:cols[i]},g);
 
 
 const t=tx(legPos[i][0]+17,legPos[i][1]+6,n,{'font-size':16},g);
 
 
});
})();

// ================= Panel H =================
(function(){
const hx=v=>375+v*23750, hy=i=>1251+i*13.5;
const g=mk('g',{});


for(let k=-2;k<=9;k++){
 const l=mk('line',{x1:hx(k*0.001),y1:1245,x2:hx(k*0.001),y2:1515,stroke:'#e6e6e6'},g);
 
 
}
enrCats.forEach((c,i)=>{
 const l=mk('line',{x1:327,y1:hy(i),x2:588,y2:hy(i),stroke:'#e6e6e6'},g);
 
 
});
let e=mk('rect',{x:327,y:1245,width:261,height:270,fill:'none',stroke:'#555'},g);


const pcol=v=>lerpHex('#6f5cf0','#f77a60',Math.min(1,v/0.007));
enrCats.forEach((c,i)=>{
 const l=mk('line',{x1:323,y1:hy(i),x2:327,y2:hy(i),stroke:'#555'},g);
 
 
 const t=tx(319,hy(i)+6,c,{'font-size':17,'text-anchor':'end'},g);
 
 
 const d=mk('circle',{cx:hx(enrP[i]),cy:hy(i),r:4+enrNum[i]*1.1,fill:pcol(enrP[i]),'fill-opacity':0.9},g);
 
 
});
enrXTicks.forEach((v,i)=>{
 const l=mk('line',{x1:hx(v),y1:1515,x2:hx(v),y2:1519,stroke:'#555'},g);
 
 
 const t=tx(hx(v)+4,1526,enrXTickLabels[i],{'font-size':12,'text-anchor':'end',rot:-35},g);
 
 
});
const gr=mk('linearGradient',{id:'pvgrad',x1:0,y1:1,x2:0,y2:0},g);
mk('stop',{offset:0,'stop-color':'#6f5cf0'},gr);
mk('stop',{offset:1,'stop-color':'#f77a60'},gr);
const py=v=>1363-v*13800;
let r=mk('rect',{x:612,y:py(0.0071),width:20,height:py(0)-py(0.0071),fill:'url(#pvgrad)'},g);


enrPvTicks.forEach(v=>{
 const t=tx(636,py(v)+7,String(v),{'font-size':19},g);
 
 
});
enrSizeLegend.forEach((n,i)=>{
 const c=mk('circle',{cx:607,cy:1446+i*15,r:3.8+n*0.5,fill:'#000'},g);
 
 
 const t=tx(619,1448+i*15,String(n),{'font-size':6},g);
 
 
});
})();
</script>
</body></html>
